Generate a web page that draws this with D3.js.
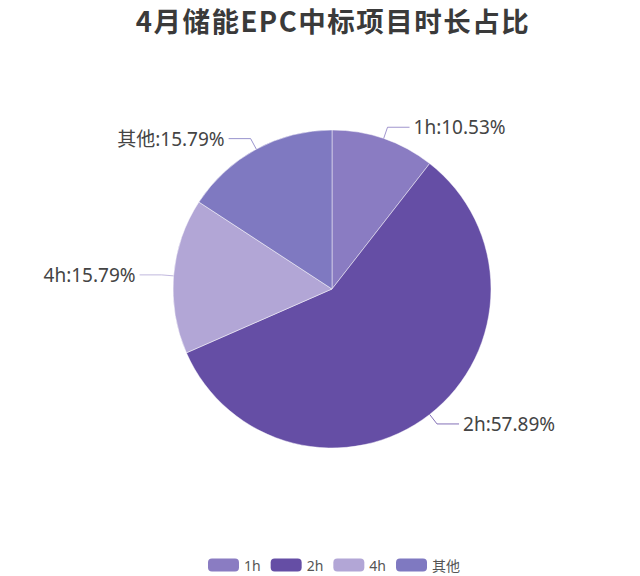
<!DOCTYPE html>
<html>
<head>
<meta charset="utf-8">
<script src="https://cdn.jsdelivr.net/npm/d3@7/dist/d3.min.js"></script>
<style>
  html, body { margin: 0; padding: 0; background: #fff; }
  svg { display: block; }
</style>
</head>
<body>
<svg id="chart" width="640" height="576"></svg>
<script>
// Duration categories of winning storage EPC projects in April (project counts)
const categories = ["1h", "2h", "4h", "其他"];
const projectCounts = [2, 11, 3, 3];
const sliceColors = ["#8a7cc2", "#654ea5", "#b2a6d6", "#7f79c1"];
const titleText = "4月储能EPC中标项目时长占比";

const width = 640, height = 576;
const cx = 332, cy = 289, radius = 159;
const svg = d3.select("#chart");

const data = categories.map((c, i) => ({ name: c, value: projectCounts[i], color: sliceColors[i] }));
const total = d3.sum(projectCounts);

// Title
svg.append("text")
  .attr("x", 333).attr("y", 32)
  .attr("text-anchor", "middle")
  .attr("font-family", "'Noto Sans CJK SC', 'Noto Sans', sans-serif")
  .attr("font-weight", "bold")
  .attr("font-size", 27.5)
  .attr("letter-spacing", 1.5)
  .attr("fill", "#3a3a3a")
  .text(titleText);

// Pie
const pie = d3.pie().value(d => d.value).sort(null);
const arcs = pie(data);
const arcGen = d3.arc().innerRadius(0).outerRadius(radius);

const g = svg.append("g").attr("transform", `translate(${cx},${cy})`);
g.selectAll("path.slice")
  .data(arcs)
  .enter().append("path")
  .attr("class", "slice")
  .attr("d", arcGen)
  .attr("fill", d => d.data.color)
  .attr("stroke", "#ffffff")
  .attr("stroke-opacity", 0.6)
  .attr("stroke-width", 0.8);

// Label guide lines and labels
const len1 = 12, len2 = 22, gap = 4;
const fmt = v => (v / total * 100).toFixed(2) + "%";
arcs.forEach(a => {
  const mid = (a.startAngle + a.endAngle) / 2;
  const sx = Math.sin(mid), sy = -Math.cos(mid);
  const p0 = [radius * sx, radius * sy];
  const p1 = [(radius + len1) * sx, (radius + len1) * sy];
  const right = sx >= 0;
  const p2 = [p1[0] + (right ? len2 : -len2), p1[1]];
  g.append("path")
    .attr("d", d3.line()([p0, p1, p2]))
    .attr("fill", "none")
    .attr("stroke", a.data.color)
    .attr("stroke-opacity", 0.8)
    .attr("stroke-width", 1);
  g.append("text")
    .attr("x", p2[0] + (right ? gap : -gap))
    .attr("y", p2[1])
    .attr("text-anchor", right ? "start" : "end")
    .attr("dominant-baseline", "central")
    .attr("font-family", "'Noto Sans', 'Noto Sans CJK SC', sans-serif")
    .attr("font-size", 19)
    .attr("fill", "#444")
    .text(a.data.name + ":" + fmt(a.data.value));
});

// Legend
const legend = svg.append("g");
const swW = 31, swH = 13, itemGap = 10, txtGap = 5;
let x = 0;
data.forEach(d => {
  const item = legend.append("g").attr("transform", `translate(${x},0)`);
  item.append("rect")
    .attr("x", 0).attr("y", -swH / 2)
    .attr("width", swW).attr("height", swH)
    .attr("rx", 4).attr("ry", 4)
    .attr("fill", d.color);
  const t = item.append("text")
    .attr("x", swW + txtGap).attr("y", 0)
    .attr("dominant-baseline", "central")
    .attr("font-family", "'Noto Sans', 'Noto Sans CJK SC', sans-serif")
    .attr("font-size", 14)
    .attr("fill", "#555")
    .text(d.name);
  x += swW + txtGap + t.node().getComputedTextLength() + itemGap;
});
const legendW = x - itemGap;
legend.attr("transform", `translate(${334 - legendW / 2},565)`);
</script>
</body>
</html>
